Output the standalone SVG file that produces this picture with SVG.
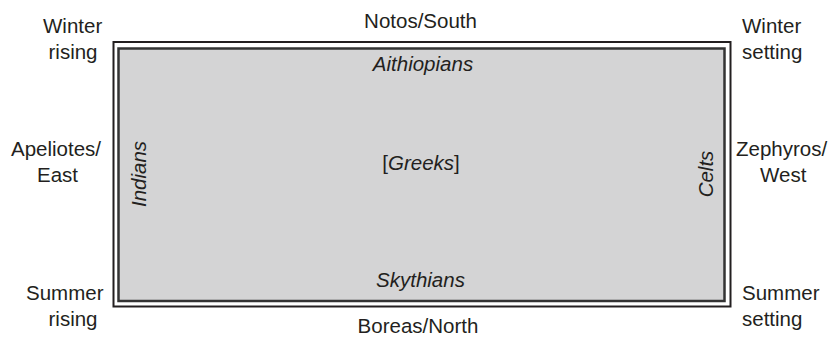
<svg xmlns="http://www.w3.org/2000/svg" width="836" height="337" viewBox="0 0 836 337">
<style>
  text { font-family: "Liberation Sans", Arial, Helvetica, sans-serif; font-size: 20.5px; fill: #231f20; }
  .it { font-style: italic; }
  .mid { text-anchor: middle; }
</style>
<rect width="836" height="337" fill="#ffffff"/>
<g id="map">
  <rect id="outer" x="113.5" y="42" width="617" height="264.5" fill="#ffffff" stroke="#231f20" stroke-width="2"/>
  <rect id="inner" x="118.5" y="48.5" width="606" height="252.5" fill="#d4d4d5" stroke="#333333" stroke-width="2.5"/>
</g>
<g id="peoples">
  <text id="aithiopians" class="it mid" x="423" y="71">Aithiopians</text>
  <text id="greeks" class="mid" x="421" y="170">[<tspan class="it">Greeks</tspan>]</text>
  <text id="skythians" class="it mid" x="420.5" y="287">Skythians</text>
  <text id="indians" class="it mid" transform="translate(146,174) rotate(-90)">Indians</text>
  <text id="celts" class="it mid" transform="translate(713,174) rotate(-90)">Celts</text>
</g>
<g id="directions">
  <text id="south" class="mid" x="420.5" y="28">Notos/South</text>
  <text id="north" class="mid" x="418" y="333">Boreas/North</text>
  <g id="winter-rising">
    <text x="43" y="33">Winter</text>
    <text x="48.5" y="59">rising</text>
  </g>
  <g id="winter-setting">
    <text x="742" y="33">Winter</text>
    <text x="742" y="59">setting</text>
  </g>
  <g id="east">
    <text class="mid" x="56" y="156">Apeliotes/</text>
    <text class="mid" x="57.5" y="182">East</text>
  </g>
  <g id="west">
    <text x="736" y="156">Zephyros/</text>
    <text x="760" y="182">West</text>
  </g>
  <g id="summer-rising">
    <text x="26" y="300">Summer</text>
    <text x="48.5" y="326">rising</text>
  </g>
  <g id="summer-setting">
    <text x="742" y="300">Summer</text>
    <text x="742" y="326">setting</text>
  </g>
</g>
</svg>
